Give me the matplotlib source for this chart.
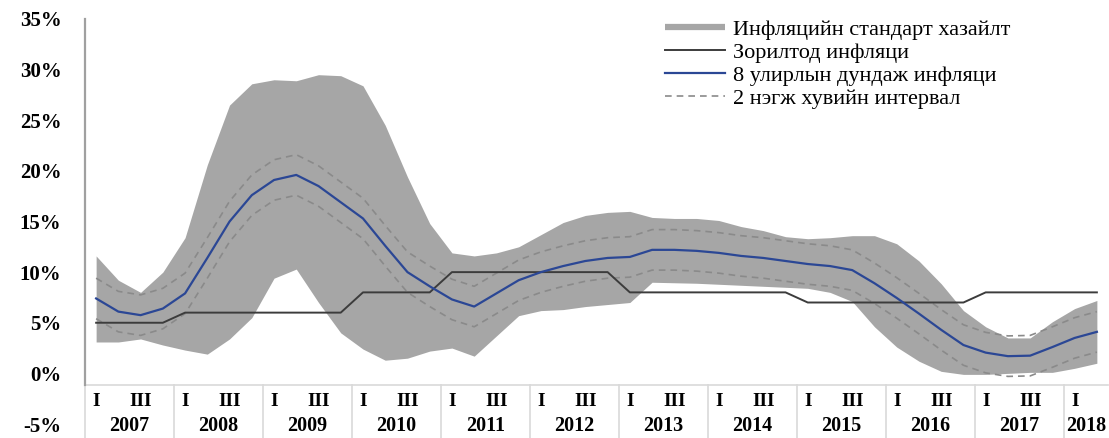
import matplotlib.pyplot as plt
import numpy as np
from matplotlib.lines import Line2D

# Quarterly series, 2007 Q1 .. 2018 Q2 (values in %)
years = [str(y) for y in range(2007, 2019)]
quarters_in_year = [4] * 11 + [2]
quarter_labels = ["I", "", "III", ""]

target = [5, 5, 5, 5, 6, 6, 6, 6, 6, 6, 6, 6,
          8, 8, 8, 8, 10, 10, 10, 10, 10, 10, 10, 10,
          8, 8, 8, 8, 8, 8, 8, 8, 7, 7, 7, 7,
          7, 7, 7, 7, 8, 8, 8, 8, 8, 8]

mean_8q = [7.4, 6.1, 5.75, 6.4, 7.9, 11.4, 15.0, 17.6,
           19.1, 19.6, 18.5, 16.9, 15.3, 12.6, 10.0, 8.6,
           7.3, 6.6, 7.9, 9.2, 10.0, 10.6, 11.1, 11.4,
           11.5, 12.2, 12.2, 12.1, 11.9, 11.6, 11.4, 11.1,
           10.8, 10.6, 10.2, 8.9, 7.45, 5.9, 4.3, 2.8,
           2.05, 1.7, 1.75, 2.6, 3.5, 4.1]

std_upper = [11.6, 9.2, 8.0, 10.0, 13.4, 20.6, 26.5, 28.6,
             29.0, 28.9, 29.5, 29.4, 28.4, 24.5, 19.4, 14.8,
             11.9, 11.6, 11.9, 12.5, 13.7, 14.9, 15.6, 15.9,
             16.0, 15.4, 15.3, 15.3, 15.1, 14.5, 14.1, 13.5,
             13.3, 13.4, 13.6, 13.6, 12.8, 11.1, 8.85, 6.2,
             4.6, 3.5, 3.5, 5.1, 6.4, 7.2]

std_lower = [3.1, 3.1, 3.4, 2.8, 2.3, 1.9, 3.4, 5.5,
             9.4, 10.3, 7.0, 4.0, 2.4, 1.3, 1.5, 2.2,
             2.5, 1.7, 3.7, 5.7, 6.2, 6.3, 6.6, 6.8,
             7.0, 9.0, 8.95, 8.9, 8.8, 8.7, 8.6, 8.5,
             8.4, 8.0, 7.1, 4.6, 2.6, 1.2, 0.2, -0.1,
             -0.1, 0.0, 0.1, 0.1, 0.5, 1.0]

interval = 2  # +/- 2 percentage points around the mean

legend_labels = ["Инфляцийн стандарт хазайлт", "Зорилтод инфляци",
                 "8 улирлын дундаж инфляци", "2 нэгж хувийн интервал"]

band_color = "#a6a6a6"
blue = "#2b4795"
dark = "#3c3c3c"
dash_color = "#8a8a8a"
serif = ["Liberation Serif", "DejaVu Serif"]

x = np.arange(len(mean_8q))
mean_arr = np.array(mean_8q)

fig = plt.figure(figsize=(11.09, 4.38), dpi=100)
ax = fig.add_axes([85 / 1109, 14 / 438, (1108 - 85) / 1109, 405 / 438])

ax.fill_between(x, std_lower, std_upper, color=band_color, lw=0, zorder=1)
ax.plot(x, mean_arr + interval, color=dash_color, lw=1.2, dashes=(4, 3), zorder=2)
ax.plot(x, mean_arr - interval, color=dash_color, lw=1.2, dashes=(4, 3), zorder=2)
ax.plot(x, target, color=dark, lw=1.4, zorder=3)
ax.plot(x, mean_8q, color=blue, lw=1.6, zorder=4)

ax.set_xlim(-0.5, len(x) - 0.5)
ax.set_ylim(-5, 35)
ax.set_yticks(range(-5, 36, 5))
ax.set_yticklabels([f"{v}%" for v in range(-5, 36, 5)],
                   fontfamily=serif, fontweight="bold", fontsize=15)
ax.tick_params(axis="y", length=0, pad=17)
ax.set_xticks([])

for side in ["top", "right", "bottom"]:
    ax.spines[side].set_visible(False)
axis_y = -1.1
ax.spines["left"].set_bounds(axis_y, 35)
ax.spines["left"].set_color("#a0a0a0")
ax.spines["left"].set_linewidth(1.6)

# category axis: baseline, year separators, quarter and year labels
ax.plot([-0.5, len(x) - 0.5], [axis_y, axis_y], color="#d9d9d9", lw=1.2,
        clip_on=False, zorder=0)
start = 0
for year, n in zip(years, quarters_in_year):
    ax.plot([start - 0.5, start - 0.5], [axis_y, -6.6], color="#d9d9d9",
            lw=1.2, clip_on=False)
    for q in range(n):
        if quarter_labels[q]:
            ax.text(start + q, -2.75, quarter_labels[q], ha="center", va="center",
                    fontfamily=serif, fontweight="bold", fontsize=14)
    ax.text(start + (n - 1) / 2, -5.2, year, ha="center", va="center",
            fontfamily=serif, fontweight="bold", fontsize=14.5)
    start += n

handles = [
    Line2D([], [], color=band_color, lw=4.5, solid_capstyle="butt"),
    Line2D([], [], color=dark, lw=1.4),
    Line2D([], [], color=blue, lw=1.6),
    Line2D([], [], color=dash_color, lw=1.2, dashes=(4, 3)),
]
fig.legend(handles, legend_labels, loc="upper left",
           bbox_to_anchor=(665 / 1109, 1 - 19 / 438), frameon=False,
           borderpad=0, borderaxespad=0, handlelength=2.7, handletextpad=0.35,
           labelspacing=0.12, prop={"family": serif, "size": 16})

fig.savefig("out.png", dpi=100)
